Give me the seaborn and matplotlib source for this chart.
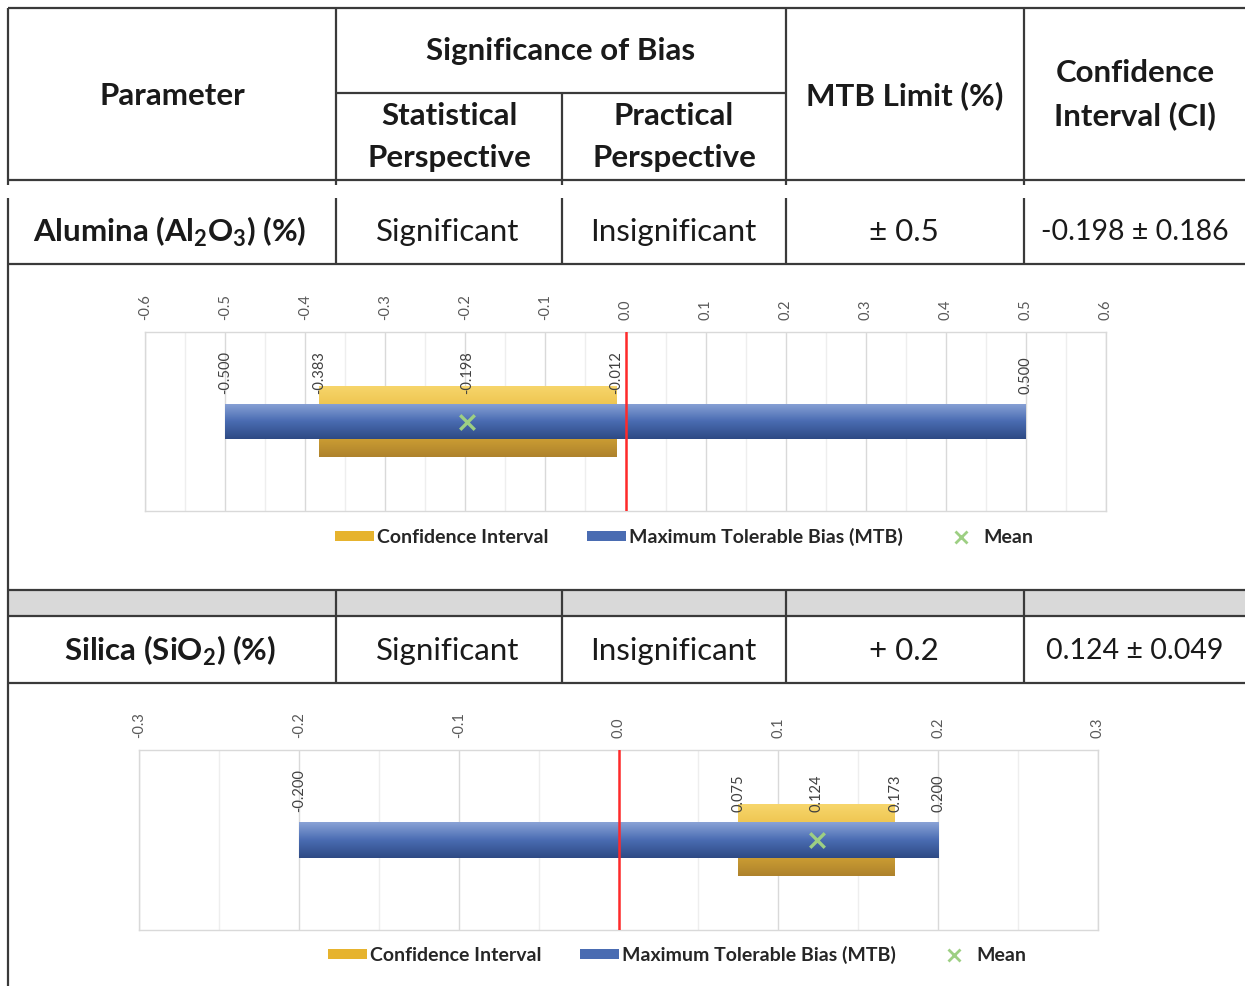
import numpy as np
import matplotlib
matplotlib.use("Agg")
import matplotlib.pyplot as plt
import seaborn as sns
from matplotlib.colors import LinearSegmentedColormap
from matplotlib.patches import Patch
from matplotlib.lines import Line2D

# table content
param_labels = [r"Alumina (Al$_\mathbf{2}$O$_\mathbf{3}$) (%)", r"Silica (SiO$_\mathbf{2}$) (%)"]
statistical = ["Significant", "Significant"]
practical = ["Insignificant", "Insignificant"]
mtb_text = ["± 0.5", "+ 0.2"]
ci_text = ["-0.198 ± 0.186", "0.124 ± 0.049"]

# chart values
mtb = [0.5, 0.2]
mean = [-0.198, 0.124]
ci_low = [-0.383, 0.075]
ci_high = [-0.012, 0.173]
axis_max = [0.6, 0.3]

sns.set_style("white")
plt.rcParams['font.family'] = ['Lato', 'DejaVu Sans']
plt.rcParams['mathtext.fontset'] = 'custom'
plt.rcParams['mathtext.rm'] = 'Lato'
plt.rcParams['mathtext.bf'] = 'Lato:bold'

W, H = 1245, 986
fig = plt.figure(figsize=(W / 100, H / 100), dpi=100)

# ---- table frame drawn in pixel space
tab = fig.add_axes([0, 0, 1, 1], zorder=0)
tab.set_xlim(0, W)
tab.set_ylim(H, 0)
tab.axis('off')
lc = '#3a3a3a'
lw = 1.6
cols = [8, 336, 562, 786, 1024]

tab.fill_between([8, W], 590, 616, color='#d9d9d9', lw=0)
tab.hlines([8, 180, 264, 590, 616, 683], 8, W, color=lc, lw=lw)
tab.hlines(93, 336, 786, color=lc, lw=lw)
tab.vlines(8, 8, 185, color=lc, lw=lw)
tab.vlines(8, 198, H, color=lc, lw=lw)
tab.vlines([336, 786, 1024], 8, 185, color=lc, lw=lw)
tab.vlines(562, 93, 185, color=lc, lw=lw)
tab.vlines(cols[1:], 198, 264, color=lc, lw=lw)
tab.vlines(cols[1:], 590, 683, color=lc, lw=lw)

hdr = dict(fontsize=22.5, fontweight='bold', color='#1a1a1a', ha='center', va='center')
tab.text(172, 96, "Parameter", **hdr)
tab.text(561, 51, "Significance of Bias", **hdr)
tab.text(449, 137, "Statistical\nPerspective", linespacing=1.6, **hdr)
tab.text(674, 137, "Practical\nPerspective", linespacing=1.6, **hdr)
tab.text(905, 96, "MTB Limit (%)", **hdr)
tab.text(1135, 95, "Confidence\nInterval (CI)", linespacing=1.6, **hdr)

row_y = [232, 651]
cell = dict(color='#1a1a1a', ha='center', va='center')
for i, y in enumerate(row_y):
    tab.text(170, y, param_labels[i], fontweight='bold', fontsize=22.5, **cell)
    tab.text(448, y, statistical[i], fontsize=22.5, **cell)
    tab.text(673, y, practical[i], fontsize=22.5, **cell)
    tab.text(904, y, mtb_text[i], fontsize=22.5, **cell)
    tab.text(1135, y, ci_text[i], fontsize=20.5, **cell)

# ---- charts
blue_cm = LinearSegmentedColormap.from_list('b', ['#8aa3d6', '#4a6cb2', '#2e4a84'])
gold_cm = LinearSegmentedColormap.from_list('g', ['#f7d66c', '#e7b73a', '#ae822c'])
grad = np.linspace(0, 1, 128).reshape(-1, 1)


def gradient_barh(ax, left, right, height, cmap, z):
    bar = ax.barh(0, right - left, left=left, height=height, color=cmap(0.5),
                  edgecolor='none', linewidth=0, zorder=z)[0]
    im = ax.imshow(grad, cmap=cmap, aspect='auto', zorder=z,
                   extent=(bar.get_x(), bar.get_x() + bar.get_width(),
                           bar.get_y(), bar.get_y() + bar.get_height()))
    im.set_clip_path(bar)


chart_boxes = [[145 / W, 1 - 511 / H, 961 / W, 179 / H],
               [139 / W, 1 - 930 / H, 959 / W, 180 / H]]
legend_pos = [(684, 537), (677, 955)]

for i in range(2):
    ax = fig.add_axes(chart_boxes[i], zorder=1)
    ax.patch.set_alpha(0)
    m = axis_max[i]
    gradient_barh(ax, ci_low[i], ci_high[i], 0.4, gold_cm, 2)
    gradient_barh(ax, -mtb[i], mtb[i], 0.2, blue_cm, 3)
    ax.axvline(0, color='#ff2a2a', lw=1.8, zorder=4)
    sns.scatterplot(x=[mean[i]], y=[0], marker='x', s=110, color='#9dcf83',
                    linewidth=2.4, ax=ax, zorder=5, legend=False)

    for v in [-mtb[i], ci_low[i], mean[i], ci_high[i], mtb[i]]:
        ax.text(v, 0.155, f"{v:.3f}", rotation=90, ha='center', va='bottom',
                fontsize=10.5, color='#404040', zorder=6)

    ax.set_xlim(-m, m)
    ax.set_ylim(-0.5, 0.5)
    major = np.round(np.arange(-m, m + 1e-9, 0.1), 2)
    minor = np.round(np.arange(-m, m + 1e-9, 0.05), 2)
    ax.set_xticks(minor, minor=True)
    ax.set_xticks(major)
    ax.set_xticklabels([f"{abs(t) if abs(t) < 1e-9 else t:.1f}" for t in major])
    ax.xaxis.tick_top()
    ax.tick_params(axis='x', which='both', length=0, pad=9, labelsize=10.5,
                   labelcolor='#595959', labelrotation=90)
    ax.set_yticks([])
    ax.grid(axis='x', which='major', color='#d9d9d9', lw=1)
    ax.grid(axis='x', which='minor', color='#eeeeee', lw=1)
    ax.set_axisbelow(True)
    for s in ax.spines.values():
        s.set_color('#d9d9d9')
        s.set_linewidth(1)

    handles = [Patch(facecolor='#e6b32e', edgecolor='none'),
               Patch(facecolor='#4a6cb2', edgecolor='none'),
               Line2D([], [], marker='x', linestyle='none', color='#9dcf83',
                      markersize=9, markeredgewidth=2)]
    lx, ly = legend_pos[i]
    fig.legend(handles, ["Confidence Interval", "Maximum Tolerable Bias (MTB)", "Mean"],
               loc='center', bbox_to_anchor=(lx / W, 1 - ly / H), ncol=3, frameon=False,
               handlelength=2.0, handleheight=0.35, handletextpad=0.15, columnspacing=2.0,
               prop={'size': 14, 'weight': 'bold'}, labelcolor='#262626')

fig.savefig("out.png", dpi=100)
